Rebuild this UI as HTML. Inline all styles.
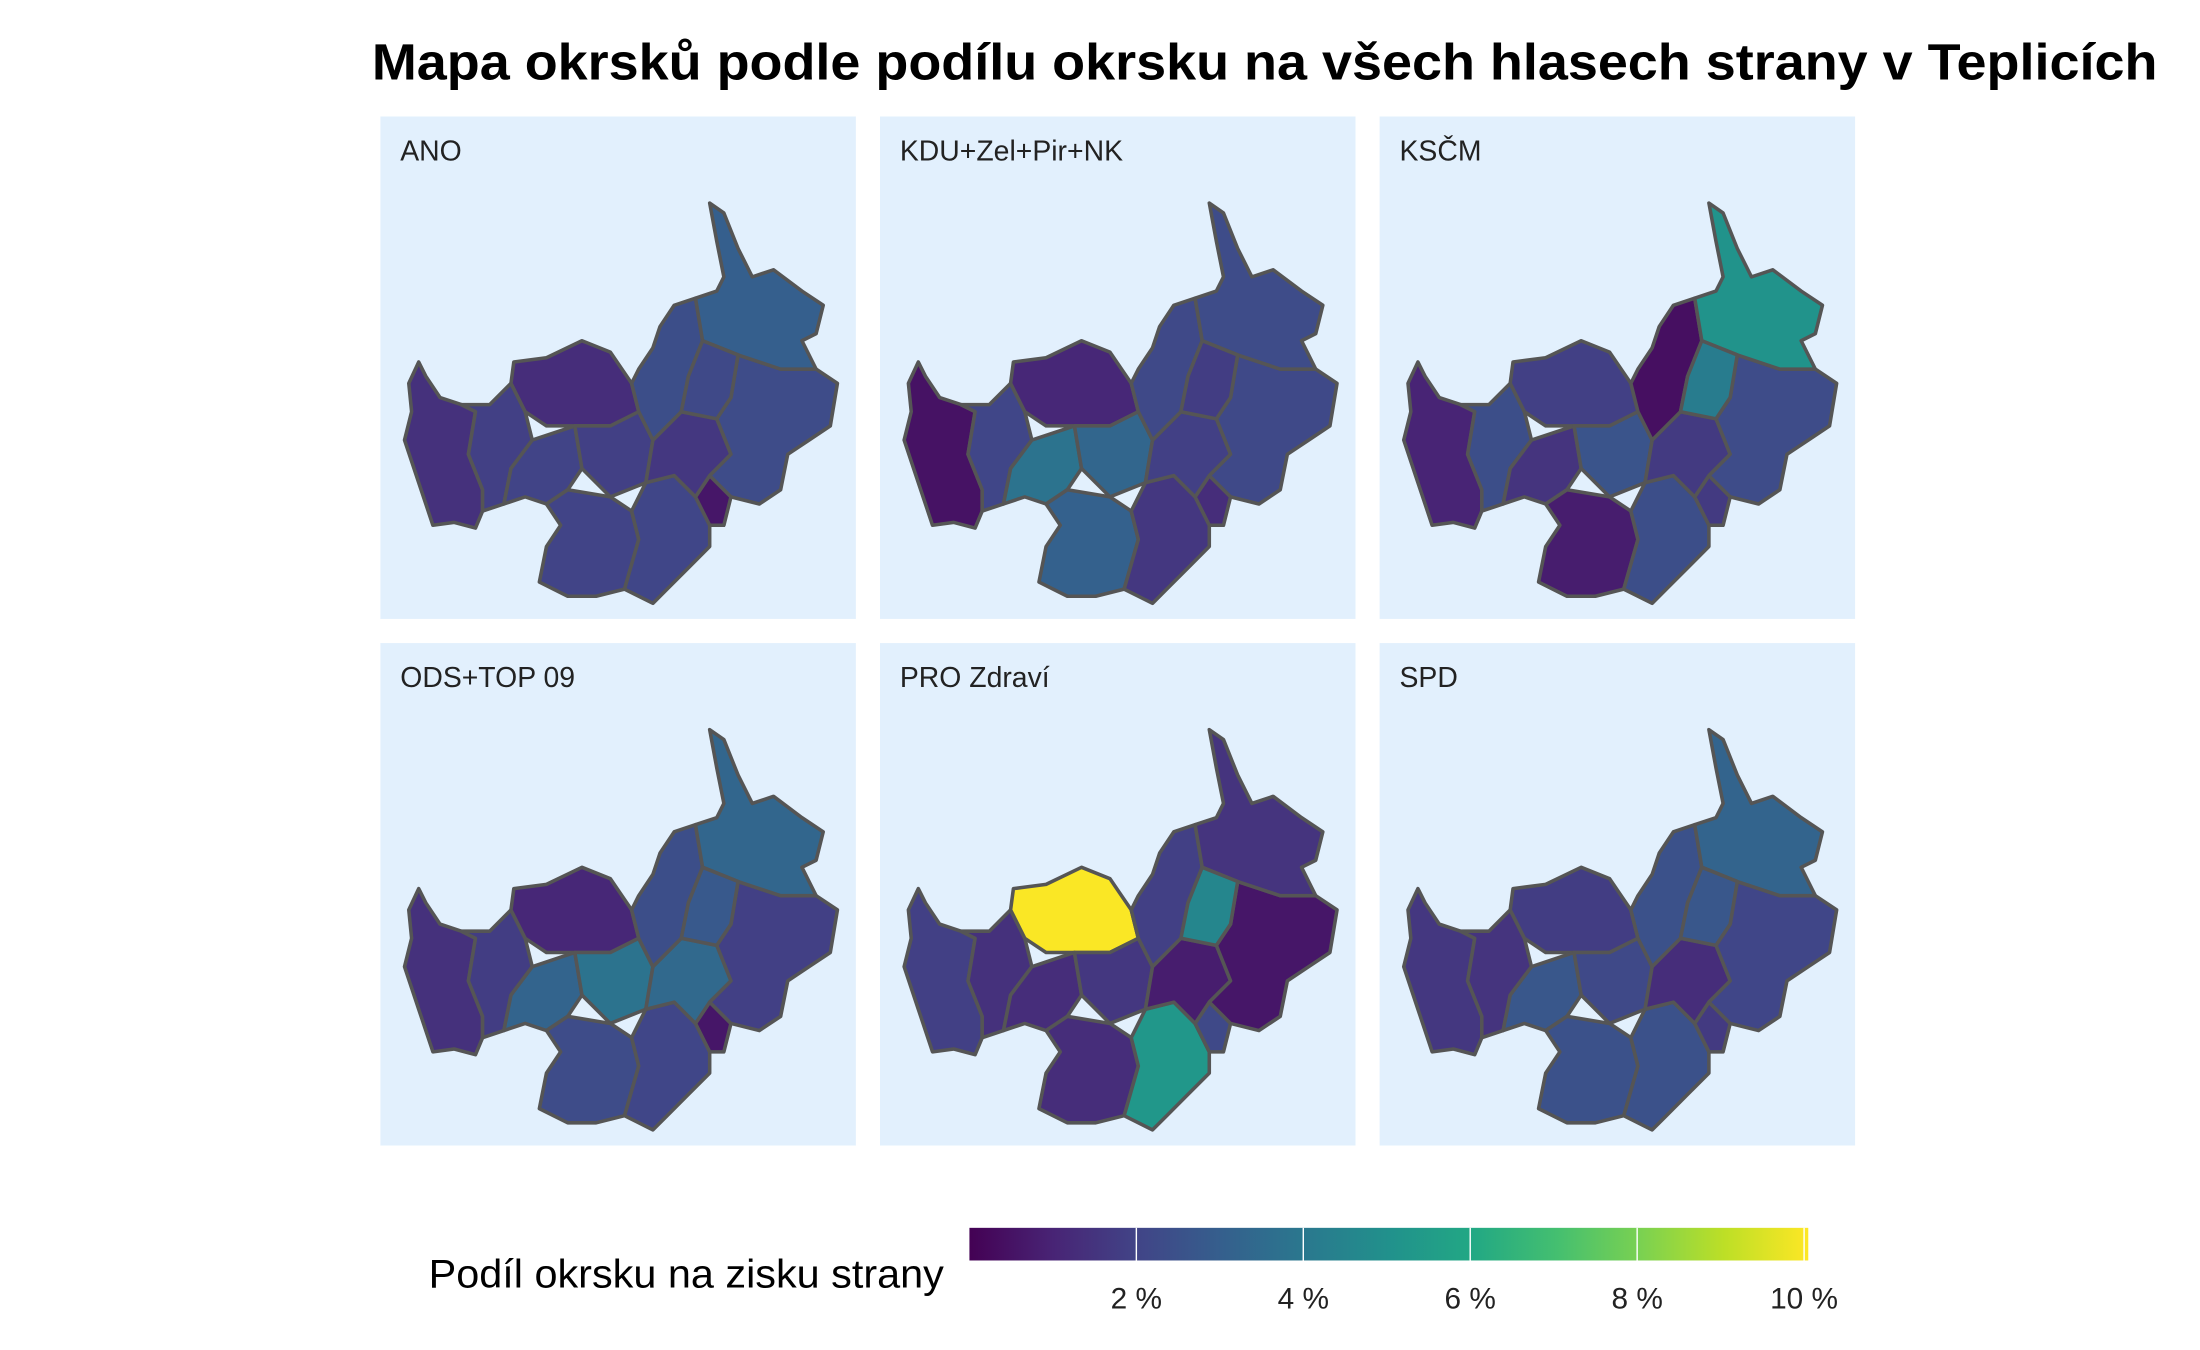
<!DOCTYPE html>
<html><head><meta charset="utf-8"><style>
html,body{margin:0;padding:0;background:#fff}
svg{display:block}
text{font-family:"Liberation Sans",sans-serif}
</style></head><body>
<svg id="chart" width="2200" height="1350" viewBox="0 0 1550 951" xmlns="http://www.w3.org/2000/svg">
<defs>
<linearGradient id="vir" x1="0" x2="1" y1="0" y2="0">
<stop offset="0" stop-color="#440154"/><stop offset="0.1" stop-color="#482475"/><stop offset="0.2" stop-color="#414487"/><stop offset="0.3" stop-color="#355f8d"/><stop offset="0.4" stop-color="#2a788e"/><stop offset="0.5" stop-color="#21918c"/><stop offset="0.6" stop-color="#22a884"/><stop offset="0.7" stop-color="#44bf70"/><stop offset="0.8" stop-color="#7ad151"/><stop offset="0.9" stop-color="#bddf26"/><stop offset="1" stop-color="#fde725"/>
</linearGradient>
</defs>
<text x="262" y="56" textLength="1258" lengthAdjust="spacingAndGlyphs" font-size="36" font-weight="bold" fill="#000">Mapa okrsků podle podílu okrsku na všech hlasech strany v Teplicích</text>
<g id="panels"></g>
<g>
<text x="302" y="907" textLength="363" lengthAdjust="spacingAndGlyphs" font-size="28" fill="#000">Podíl okrsku na zisku strany</text>
<rect x="683" y="865" width="591" height="23" fill="url(#vir)"/>
<g id="ticks"></g>
</g>
</svg>
<script>
const parties = ["ANO","KDU+Zel+Pir+NK","KSČM","ODS+TOP 09","PRO Zdraví","SPD"];
const valsANO = [1.4,1.9,1.3,2.0,1.9,2.0,2.1,0.6,1.6,2.4,2.3,3.0,2.2];
const valsKDU = [0.5,2.1,1.1,3.8,3.3,3.1,1.6,1.3,1.9,2.2,2.2,2.3,1.8];
const valsKSCM = [1.0,2.4,1.9,1.5,2.6,0.8,2.4,1.7,1.7,0.4,2.3,5.1,4.2];
const valsODS = [1.4,1.8,1.1,3.2,3.8,2.3,2.1,0.6,3.4,2.4,1.9,3.3,2.8];
const valsPRO = [1.9,1.4,10.0,1.3,1.6,1.3,5.3,2.2,0.8,1.9,0.6,1.5,4.6];
const valsSPD = [1.6,1.5,1.8,2.7,2.2,2.5,2.5,1.7,1.3,2.5,2.1,3.2,2.7];
const tickVals = [2,4,6,8,10];
const tickLabels = ["2 %","4 %","6 %","8 %","10 %"];
const allVals=[valsANO,valsKDU,valsKSCM,valsODS,valsPRO,valsSPD];
const vmin=0, vmax=10.05;
const stops=[[0,"#440154"],[0.1,"#482475"],[0.2,"#414487"],[0.3,"#355f8d"],[0.4,"#2a788e"],[0.5,"#21918c"],[0.6,"#22a884"],[0.7,"#44bf70"],[0.8,"#7ad151"],[0.9,"#bddf26"],[1,"#fde725"]];
function hex(h){return [1,3,5].map(i=>parseInt(h.substr(i,2),16));}
function color(v){let t=Math.max(0,Math.min(1,(v-vmin)/(vmax-vmin)));
 for(let i=1;i<stops.length;i++){if(t<=stops[i][0]){const a=stops[i-1],b=stops[i];const f=(t-a[0])/(b[0]-a[0]);const A=hex(a[1]),B=hex(b[1]);return "rgb("+A.map((x,k)=>Math.round(x+(B[k]-x)*f)).join(",")+")";}}return stops[stops.length-1][1];}
const geom=[
"295,255 300,265 310,280 325,285 335,290 330,320 340,345 340,360 335,372 320,368 305,370 295,340 285,310 290,290 288,270",
"325,285 345,285 360,270 370,290 375,310 360,330 355,355 340,360 340,345 330,320 335,290",
"362,255 385,252 410,240 430,248 445,270 450,290 430,300 405,300 385,300 370,290 360,270",
"360,330 375,310 405,300 410,330 400,345 385,355 370,350 355,355",
"405,300 430,300 450,290 460,310 455,340 430,350 410,330",
"385,355 400,345 430,350 445,360 450,380 440,415 420,420 400,420 380,410 385,385 395,370",
"445,360 455,340 475,335 490,350 500,370 500,385 485,400 470,415 460,425 440,415 450,380",
"490,350 500,335 515,350 510,370 500,370",
"460,310 480,290 505,295 515,320 500,335 490,350 475,335 455,340",
"450,290 445,270 450,260 460,245 465,230 475,215 490,210 495,240 485,265 480,290 460,310",
"505,295 515,280 520,250 550,260 575,260 590,270 585,300 570,310 555,320 550,345 535,355 515,350 500,335 515,320",
"490,210 505,205 510,195 505,170 500,143 510,150 520,175 530,195 545,190 565,205 580,215 575,235 565,240 575,260 550,260 520,250 495,240",
"485,265 495,240 520,250 515,280 505,295 480,290"];
const NS="http://www.w3.org/2000/svg";
const pg=document.getElementById('panels');
parties.forEach((p,i)=>{
 const dx=(i%3)*352, dy=Math.floor(i/3)*371;
 const g=document.createElementNS(NS,'g');
 
 
 g.setAttribute('transform','translate('+dx+','+dy+')');
 const bg=document.createElementNS(NS,'rect');
 
 
 bg.setAttribute('x',268);bg.setAttribute('y',82);bg.setAttribute('width',335);bg.setAttribute('height',354);bg.setAttribute('fill','#e2f0fd');
 g.appendChild(bg);
 const t=document.createElementNS(NS,'text');
 
 
 t.setAttribute('x',282);t.setAttribute('y',113);t.setAttribute('font-size',20);t.setAttribute('fill','#222');
 t.textContent=p;g.appendChild(t);
 geom.forEach((pts,k)=>{
  const poly=document.createElementNS(NS,'polygon');
  
  
  poly.setAttribute('points',pts);
  poly.setAttribute('fill',color(allVals[i][k]));
  poly.setAttribute('stroke','#555');poly.setAttribute('stroke-width','2.5');poly.setAttribute('stroke-linejoin','round');
  g.appendChild(poly);
 });
 pg.appendChild(g);
});
const tg=document.getElementById('ticks');
const x0=683,w=591;
function xs(v){return x0+(v-vmin)/(vmax-vmin)*w;}
tickVals.forEach((v,i)=>{
 const l=document.createElementNS(NS,'line');
 
 
 l.setAttribute('x1',xs(v));l.setAttribute('x2',xs(v));l.setAttribute('y1',865);l.setAttribute('y2',888);l.setAttribute('stroke','#fff');l.setAttribute('stroke-width',1);
 tg.appendChild(l);
 const tx=document.createElementNS(NS,'text');
 
 
 tx.setAttribute('x',xs(v));tx.setAttribute('y',922);tx.setAttribute('text-anchor','middle');tx.setAttribute('font-size',21);tx.setAttribute('fill','#222');
 tx.textContent=tickLabels[i];tg.appendChild(tx);
});
</script>
</body></html>
